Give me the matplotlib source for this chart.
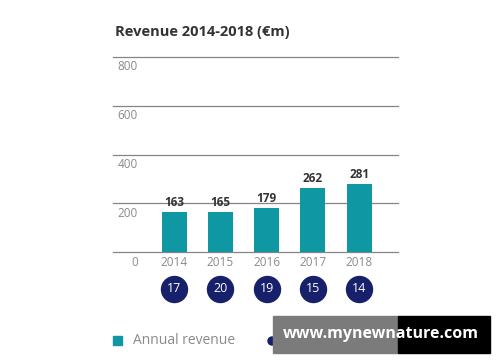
import matplotlib
matplotlib.use("Agg")
import matplotlib.pyplot as plt
from matplotlib.patches import Rectangle, Ellipse
import matplotlib.transforms as mtransforms

plt.rcParams['font.family'] = ['Open Sans', 'DejaVu Sans']

years = ["2014", "2015", "2016", "2017", "2018"]
revenue = [163, 165, 179, 262, 281]
circle_values = [17, 20, 19, 15, 14]
yticks = [0, 200, 400, 600, 800]

teal = "#0f97a4"
navy = "#17206a"
grey_text = "#8a8a8a"

fig = plt.figure(figsize=(5, 3.62), dpi=100)
fig.patch.set_facecolor("white")

ax = fig.add_axes([113/500, (362-252)/362, 285/500, (252-57)/362])
xs = list(range(len(years)))
ax.bar(xs, revenue, width=0.54, color=teal, zorder=2)
ax.set_xlim(-1.32, 4.84)
ax.set_ylim(0, 800)
ax.axis("off")

for v in yticks:
    ax.axhline(v, color="#858585", lw=0.9, zorder=1, clip_on=False)
    off = mtransforms.offset_copy(ax.transData, fig=fig, x=0, y=-10, units="dots")
    ax.text(-0.78, v, str(v), transform=off, ha="right", va="center",
            fontsize=8.5, color=grey_text)

for x, r, yr in zip(xs, revenue, years):
    off = mtransforms.offset_copy(ax.transData, fig=fig, x=0, y=3, units="dots")
    ax.text(x, r, str(r), transform=off, ha="center", va="bottom",
            fontsize=8.5, fontweight="bold", color="#333333")
    off2 = mtransforms.offset_copy(ax.transData, fig=fig, x=0, y=-10, units="dots")
    ax.text(x, 0, yr, transform=off2, ha="center", va="center",
            fontsize=8.5, color=grey_text)

circ_y = -(289-252)/(195/800)
ax.scatter(xs, [circ_y]*len(xs), s=350, color=navy, clip_on=False, zorder=3)
for x, c in zip(xs, circle_values):
    ax.text(x, circ_y, str(c), ha="center", va="center", fontsize=9,
            color="white", zorder=4, clip_on=False)

fig.text(115/500, 1-32/362, "Revenue 2014-2018 (€m)", fontsize=10.5,
         fontweight="bold", color="#333333", ha="left", va="center")

# legend
fig.patches.append(Rectangle((113/500, 1-345/362), 9/500, 9/362,
                             transform=fig.transFigure, color=teal))
fig.text(133/500, 1-341/362, "Annual revenue", fontsize=10, color=grey_text,
         ha="left", va="center")
fig.patches.append(Ellipse((272/500, 1-341/362), 8/500, 8/362,
                   transform=fig.transFigure, color=navy))

# watermark overlay
fig.patches.append(Rectangle((273/500, 1-353/362), 125/500, 37/362,
                             transform=fig.transFigure, color="#7b7b7b", zorder=5))
fig.patches.append(Rectangle((398/500, 1-353/362), 92/500, 37/362,
                             transform=fig.transFigure, color="black", zorder=5))
fig.text(381/500, 1-334/362, "www.mynewnature.com", fontsize=11.5, fontweight="bold",
         color="white", ha="center", va="center", zorder=6)

fig.savefig("out.png", dpi=100)
